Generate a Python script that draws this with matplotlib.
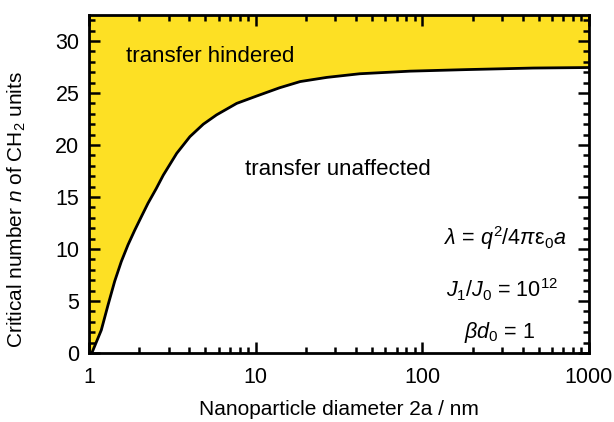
import matplotlib
matplotlib.use("Agg")
import matplotlib.pyplot as plt

plt.rcParams['font.family'] = ['Liberation Sans', 'DejaVu Sans']
plt.rcParams['mathtext.fontset'] = 'custom'
plt.rcParams['mathtext.rm'] = 'Liberation Sans'
plt.rcParams['mathtext.it'] = 'Liberation Sans:italic'
plt.rcParams['mathtext.sf'] = 'Liberation Sans'

# critical n versus particle diameter
diameter = [1.04, 1.185, 1.30, 1.426, 1.563, 1.714, 1.88, 2.06, 2.26, 2.53,
            2.79, 3.36, 4.03, 4.85, 5.83, 7.69, 10.1, 13.9, 18.5, 26.7,
            42.1, 84.2, 184.0, 463.0, 1000.0]
n_crit = [0.0, 2.2, 4.6, 6.9, 8.8, 10.4, 11.8, 13.1, 14.4, 15.8,
          17.1, 19.2, 20.8, 22.0, 22.9, 24.0, 24.7, 25.5, 26.1, 26.5,
          26.85, 27.1, 27.25, 27.4, 27.45]

x_ticks = [1, 10, 100, 1000]
x_ticklabels = ['1', '10', '100', '1000']
y_ticks = [0, 5, 10, 15, 20, 25, 30]

fig = plt.figure(figsize=(6.14, 4.22), dpi=100)
ax = fig.add_axes([89 / 614, 1 - 353 / 422, 500 / 614, 338 / 422])

# yellow background = hindered region, white under the curve
yellow = '#FDE024'
ax.set_facecolor(yellow)
ax.fill_between(diameter, 0, n_crit, color='white', linewidth=0)
ax.plot(diameter, n_crit, color='black', linewidth=2, solid_joinstyle='round')

ax.set_xscale('log')
ax.set_xlim(1, 1000)
ax.set_ylim(0, 32.5)
ax.set_xticks(x_ticks)
ax.set_xticklabels(x_ticklabels)
ax.set_yticks(y_ticks)
ax.yaxis.set_minor_locator(matplotlib.ticker.MultipleLocator(1))

for s in ax.spines.values():
    s.set_linewidth(2)
ax.tick_params(which='both', direction='in', top=True, right=True,
               labelsize=15.5, width=1.8)
ax.tick_params(axis='x', which='both', pad=10)
ax.tick_params(axis='y', which='both', pad=7)
ax.tick_params(which='major', length=8)
ax.tick_params(which='minor', length=4)

ax.set_xlabel('Nanoparticle diameter 2a / nm', fontsize=15, labelpad=9)
ax.set_ylabel('Critical number $\\it{n}$ of CH$_2$ units', fontsize=15)
ax.yaxis.set_label_coords(-0.122, 0.423)

ax.text(5.3, 28.5, 'transfer hindered', fontsize=16, ha='center', va='center')
ax.text(31, 17.6, 'transfer unaffected', fontsize=16, ha='center', va='center')
ax.text(313, 11.06, '$\\lambda$ = $q^2$/4$\\pi\\mathrm{\\varepsilon}_0 a$', fontsize=15.5,
        ha='center', va='center')
ax.text(300, 6.06, '$J_1$/$J_0$ = 10$^{12}$', fontsize=15.5, ha='center', va='center')
ax.text(290, 2.0, '$\\beta d_0$ = 1', fontsize=15.5, ha='center', va='center')

fig.savefig('out.png', dpi=100)
